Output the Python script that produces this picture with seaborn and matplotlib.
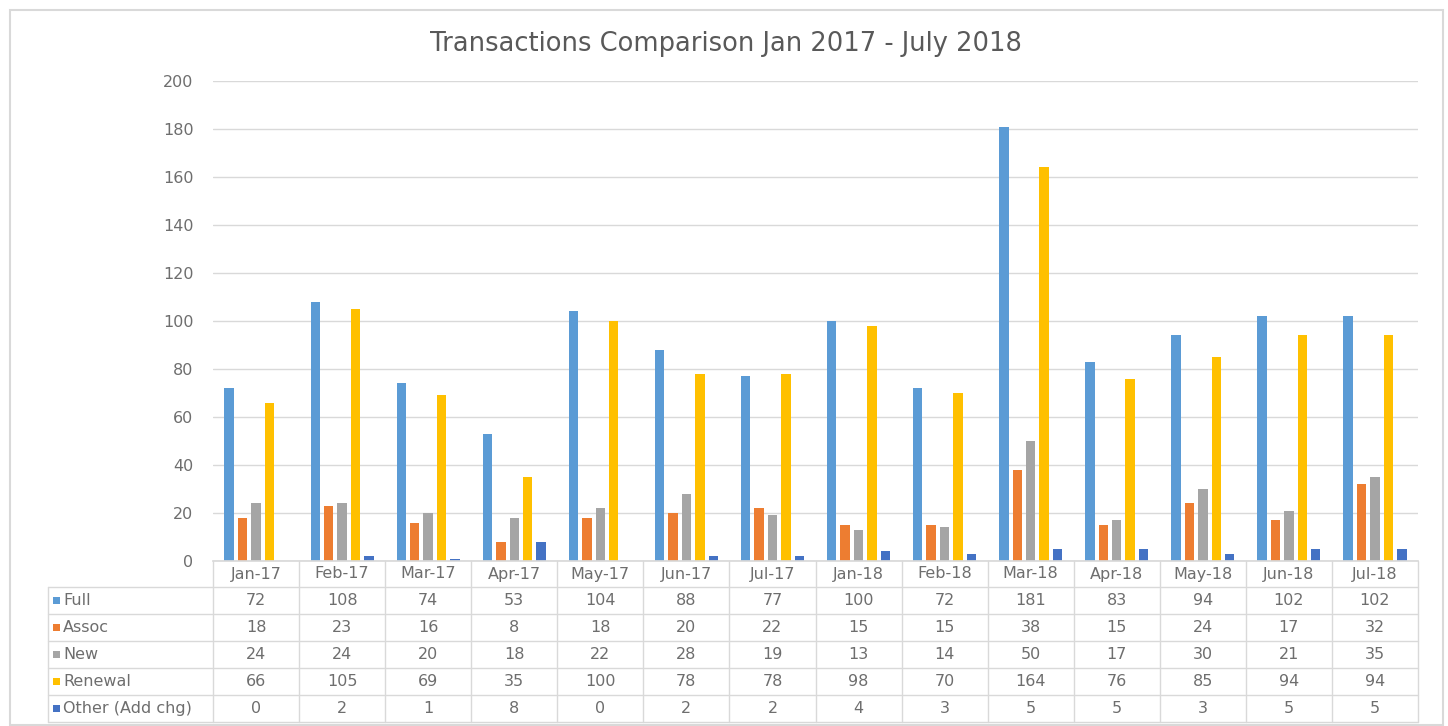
import matplotlib.pyplot as plt
import seaborn as sns
import pandas as pd
from matplotlib.patches import Rectangle
from matplotlib.lines import Line2D

months = ['Jan-17', 'Feb-17', 'Mar-17', 'Apr-17', 'May-17', 'Jun-17', 'Jul-17',
          'Jan-18', 'Feb-18', 'Mar-18', 'Apr-18', 'May-18', 'Jun-18', 'Jul-18']
series = ['Full', 'Assoc', 'New', 'Renewal', 'Other (Add chg)']
full = [72, 108, 74, 53, 104, 88, 77, 100, 72, 181, 83, 94, 102, 102]
assoc = [18, 23, 16, 8, 18, 20, 22, 15, 15, 38, 15, 24, 17, 32]
new = [24, 24, 20, 18, 22, 28, 19, 13, 14, 50, 17, 30, 21, 35]
renewal = [66, 105, 69, 35, 100, 78, 78, 98, 70, 164, 76, 85, 94, 94]
other = [0, 2, 1, 8, 0, 2, 2, 4, 3, 5, 5, 3, 5, 5]
colors = ['#5B9BD5', '#ED7D31', '#A5A5A5', '#FFC000', '#4472C4']
yticks = list(range(0, 201, 20))

values = [full, assoc, new, renewal, other]
rows = []
for s, vals in zip(series, values):
    for m, v in zip(months, vals):
        rows.append((m, s, v))
df = pd.DataFrame(rows, columns=['Month', 'Series', 'Count'])

sns.set_theme(style='white')
plt.rcParams['font.family'] = ['DejaVu Sans']
text_col = '#6E6E6E'
line_col = '#D9D9D9'
fs = 11.5

W, H = 1448, 726
fig = plt.figure(figsize=(W / 100, H / 100), dpi=100)
# pixel helpers
fx = lambda x: x / W
fy = lambda y: 1 - y / H

x0, x1, ytop, ybot = 213, 1418, 81, 561
ax = fig.add_axes([fx(x0), fy(ybot), fx(x1) - fx(x0), fy(ytop) - fy(ybot)])

sns.barplot(data=df, x='Month', y='Count', hue='Series', order=months,
            hue_order=series, palette=colors, saturation=1, width=0.78,
            gap=0.3, linewidth=0, ax=ax, legend=False)

ax.set_xlim(-0.5, len(months) - 0.5)
ax.set_ylim(0, 200)
ax.set_yticks(yticks)
ax.yaxis.grid(True, color=line_col, lw=1)
ax.set_axisbelow(True)
ax.tick_params(axis='y', length=0, pad=14, labelsize=fs, labelcolor=text_col)
ax.tick_params(axis='x', length=0, labelbottom=False)
ax.set_xlabel('')
ax.set_ylabel('')
for sp in ['top', 'right', 'left']:
    ax.spines[sp].set_visible(False)
ax.spines['bottom'].set_color(line_col)

# data table under the plot
col_w = (x1 - x0) / len(months)
row_edges = [561, 587, 614, 641, 668, 695, 722]
lbl_left = 48
for y in row_edges[1:]:
    fig.add_artist(Line2D([fx(lbl_left), fx(x1)], [fy(y), fy(y)], color=line_col, lw=1))
for i in range(len(months) + 1):
    x = x0 + i * col_w
    fig.add_artist(Line2D([fx(x), fx(x)], [fy(row_edges[0]), fy(row_edges[-1])], color=line_col, lw=1))
fig.add_artist(Line2D([fx(lbl_left), fx(lbl_left)], [fy(row_edges[1]), fy(row_edges[-1])], color=line_col, lw=1))

for i, m in enumerate(months):
    cx = x0 + (i + 0.5) * col_w
    fig.text(fx(cx), fy((row_edges[0] + row_edges[1]) / 2), m, ha='center', va='center',
             fontsize=fs, color=text_col)
for r, (s, vals, c) in enumerate(zip(series, values, colors)):
    cy = (row_edges[r + 1] + row_edges[r + 2]) / 2
    fig.add_artist(Rectangle((fx(53), fy(cy + 3.5)), 7 / W, 7 / H, color=c, lw=0))
    fig.text(fx(63), fy(cy), s, ha='left', va='center', fontsize=fs, color=text_col)
    for i, v in enumerate(vals):
        cx = x0 + (i + 0.5) * col_w
        fig.text(fx(cx), fy(cy), str(v), ha='center', va='center', fontsize=fs, color=text_col)

fig.text(fx(726), fy(44), 'Transactions Comparison Jan 2017 - July 2018', ha='center',
         va='center', fontsize=18.5, color='#595959')

# outer chart border
fig.add_artist(Rectangle((fx(10), fy(725)), (1443 - 10) / W, (725 - 10) / H,
                         fill=False, edgecolor=line_col, lw=1.5))

fig.savefig('out.png', dpi=100)
